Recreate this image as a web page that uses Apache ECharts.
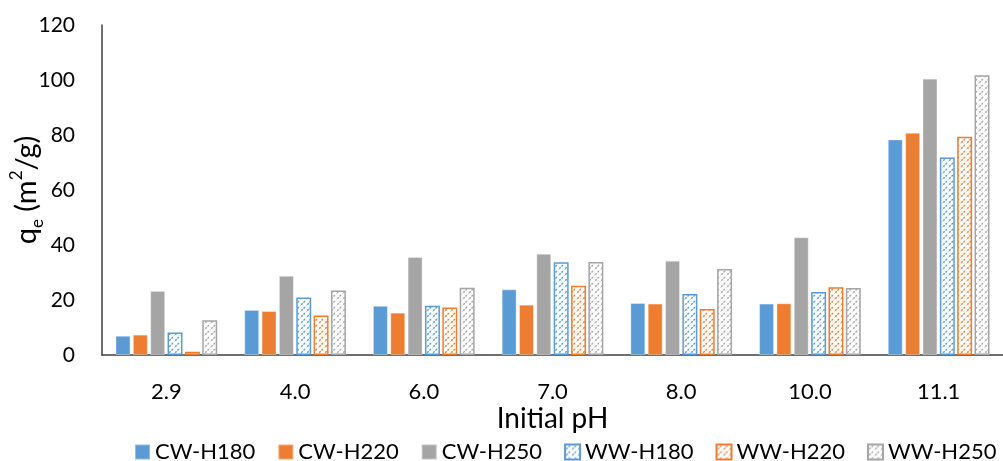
<!DOCTYPE html>
<html>
<head>
<meta charset="utf-8">
<script src="https://cdn.jsdelivr.net/npm/echarts@6/dist/echarts.min.js"></script>
<style>
  html, body { margin: 0; padding: 0; background: #fff; }
  #chart { width: 1003px; height: 461px; }
</style>
</head>
<body>
<div id="chart"></div>
<script>
// Initial pH levels on the category axis
const categories = ['2.9', '4.0', '6.0', '7.0', '8.0', '10.0', '11.1'];

// Adsorption capacity q_e (m²/g) per sample
const cwH180 = [7.0, 16.4, 17.9, 23.9, 18.9, 18.7, 78.4];
const cwH220 = [7.4, 16.0, 15.4, 18.3, 18.7, 18.8, 80.8];
const cwH250 = [23.3, 28.8, 35.6, 36.8, 34.3, 42.8, 100.5];
const wwH180 = [8.2, 20.9, 17.9, 33.7, 22.2, 22.9, 71.8];
const wwH220 = [1.2, 14.4, 17.3, 25.2, 16.7, 24.6, 79.4];
const wwH250 = [12.6, 23.5, 24.5, 33.8, 31.3, 24.4, 101.7];

const yTicks = [0, 20, 40, 60, 80, 100, 120];

const FONT = 'Lato';
const BLUE = '#5B9BD5', ORANGE = '#ED7D31', GRAY = '#A5A5A5';

// Diagonal hatch fill used for the WW samples
function hatch(color) {
  const c = document.createElement('canvas');
  c.width = 6; c.height = 6;
  const g = c.getContext('2d');
  g.fillStyle = '#fff';
  g.fillRect(0, 0, 6, 6);
  g.strokeStyle = color;
  g.lineWidth = 1.4;
  g.setLineDash([2, 1.2]);
  g.beginPath();
  g.moveTo(-1, 7); g.lineTo(7, -1);
  g.moveTo(-4, 4); g.lineTo(4, -4);
  g.moveTo(2, 10); g.lineTo(10, 2);
  g.stroke();
  return { image: c, repeat: 'repeat' };
}

function solid(name, data, color) {
  return {
    name, type: 'bar', data,
    itemStyle: { color, borderColor: 'rgba(255,255,255,0.35)', borderWidth: 1 }
  };
}
function hatched(name, data, color) {
  return {
    name, type: 'bar', data,
    itemStyle: { color: hatch(color), borderColor: color, borderWidth: 1.5 }
  };
}

const chart = echarts.init(document.getElementById('chart'), null, { renderer: 'canvas' });
chart.setOption({
  animation: false,
  backgroundColor: '#fff',
  textStyle: { fontFamily: FONT },
  grid: { left: 102, right: 0, top: 25, bottom: 106, containLabel: false, outerBoundsMode: 'none' },
  legend: {
    bottom: -2, left: 134, right: 0, padding: 0,
    itemWidth: 15, itemHeight: 15, itemGap: 22,
    icon: 'rect',
    textStyle: { fontFamily: FONT, fontSize: 22, color: '#000' },
    data: ['CW-H180', 'CW-H220', 'CW-H250', 'WW-H180', 'WW-H220', 'WW-H250']
  },
  xAxis: {
    type: 'category',
    data: categories,
    name: 'Initial pH',
    nameLocation: 'middle',
    nameGap: 50,
    nameMoveOverlap: false,
    nameTextStyle: { fontFamily: FONT, fontSize: 28, color: '#000' },
    axisLine: { lineStyle: { color: '#404040', width: 1.5 } },
    axisTick: { show: false },
    axisLabel: { fontFamily: FONT, fontSize: 22, color: '#000', margin: 26 }
  },
  yAxis: {
    type: 'value',
    min: yTicks[0], max: yTicks[yTicks.length - 1], interval: 20,
    name: '{b|q}{s|e}{b| (m}{p|2}{b|/g)}',
    nameLocation: 'middle',
    nameGap: 56,
    nameRotate: 90,
    nameMoveOverlap: false,
    nameTextStyle: {
      rich: {
        b: { fontFamily: FONT, fontSize: 29, color: '#000', lineHeight: 38 },
        s: { fontFamily: FONT, fontSize: 17, color: '#000', lineHeight: 38, verticalAlign: 'bottom' },
        p: { fontFamily: FONT, fontSize: 17, color: '#000', lineHeight: 38, verticalAlign: 'top' }
      }
    },
    axisLine: { show: true, lineStyle: { color: '#404040', width: 1.5 } },
    axisTick: { show: false },
    splitLine: { show: false },
    axisLabel: { fontFamily: FONT, fontSize: 21, color: '#000', margin: 27 }
  },
  series: [
    solid('CW-H180', cwH180, BLUE),
    solid('CW-H220', cwH220, ORANGE),
    solid('CW-H250', cwH250, GRAY),
    hatched('WW-H180', wwH180, BLUE),
    hatched('WW-H220', wwH220, ORANGE),
    hatched('WW-H250', wwH250, GRAY)
  ].map((s, i) => Object.assign(s, i === 0 ? { barCategoryGap: '21%', barGap: '16%' } : { barGap: '16%' }))
});
</script>
</body>
</html>
